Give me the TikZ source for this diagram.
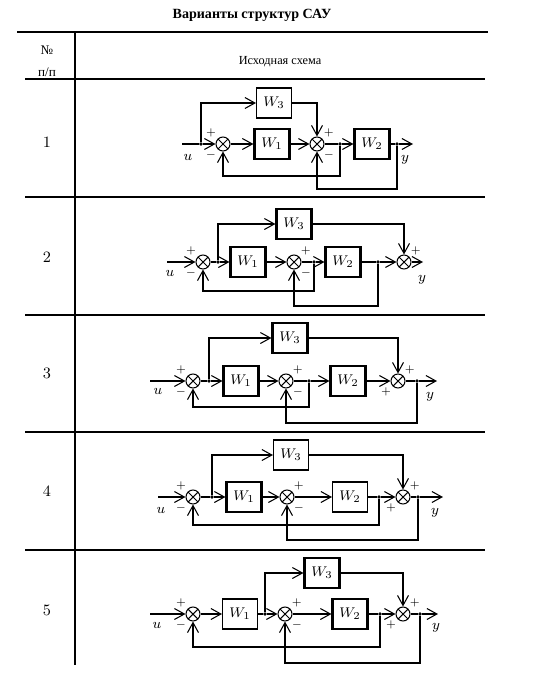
\documentclass[tikz,border=0pt]{standalone}
\usepackage{fontspec}
\usepackage{tikz}
\usetikzlibrary{arrows.meta, positioning}
\newfontfamily\cyrfont{Liberation Serif}

\tikzset{
  blok/.style={draw, line width=0.6pt, minimum width=7mm, minimum height=6mm,
    inner sep=0pt, font=\fontsize{8.5}{10}\selectfont},
  blokb/.style={blok, line width=1.2pt},
  summa/.style={draw, circle, line width=0.6pt, minimum size=2.8mm, inner sep=0pt,
    path picture={\draw[line width=0.6pt]
      (path picture bounding box.north west) -- (path picture bounding box.south east)
      (path picture bounding box.north east) -- (path picture bounding box.south west);}},
  tochka/.style={circle, fill, inner sep=0pt, minimum size=2.2pt},
  znak/.style={inner sep=0.6pt, font=\fontsize{6}{7}\selectfont},
  lbl/.style={font=\fontsize{8.5}{10}\selectfont},
  nomer/.style={font=\fontsize{9}{10}\selectfont},
  tabl/.style={line width=1.3pt},
}

\begin{document}
\begin{tikzpicture}[x=0.02cm, y=-0.02cm, line width=0.6pt,
    >={Straight Barb[length=2mm, width=2.2mm]}]
    \useasboundingbox (0,0) rectangle (553,679);

    % 1. Заголовок и таблица
    \node[font=\cyrfont\bfseries\fontsize{8}{10}\selectfont] (title) at (252,15) {Варианты структур САУ};
    \draw[tabl] (17,32) -- (488,32);
    \draw[tabl] (25,79) -- (485,79);
    \foreach \yy in {197,315,432,550}
        \draw[tabl] (25,\yy) -- (485,\yy);
    \draw[tabl] (75,32) -- (75,665);
    \node[font=\cyrfont\fontsize{7.5}{9}\selectfont] (hnum) at (47,50) {№};
    \node[font=\cyrfont\fontsize{7.5}{9}\selectfont] (hpp) at (47,72) {п/п};
    \node[font=\cyrfont\fontsize{7}{9}\selectfont] (hschema) at (280,62) {Исходная схема};
    \node[nomer] (n1) at (47,142) {1};
    \node[nomer] (n2) at (47,257) {2};
    \node[nomer] (n3) at (47,373) {3};
    \node[nomer] (n4) at (47,491) {4};
    \node[nomer] (n5) at (47,610) {5};

    % 2. Схема 1
    \coordinate (r1in) at (182,144);
    \node[tochka] (r1d0) at (201,144) {};
    \node[summa] (r1s1) at (223,144) {};
    \node[blokb] (r1w1) at (272,144) {$W_1$};
    \node[summa] (r1s2) at (317,144) {};
    \node[tochka] (r1d1) at (340,144) {};
    \node[blokb] (r1w2) at (372,144) {$W_2$};
    \node[tochka] (r1d2) at (397,144) {};
    \coordinate (r1out) at (413,144);
    \node[blok] (r1w3) at (274,103) {$W_3$};
    \coordinate (r1f1) at (340,176);
    \coordinate (r1f2) at (397,189);
    \draw (r1in) -- (r1d0);
    \draw[->] (r1d0) -- (r1s1);
    \draw[->] (r1s1) -- (r1w1);
    \draw[->] (r1w1) -- (r1s2);
    \draw (r1s2) -- (r1d1);
    \draw[->] (r1d1) -- (r1w2);
    \draw (r1w2) -- (r1d2);
    \draw[->] (r1d2) -- (r1out);
    \draw[->] (r1d0) |- (r1w3);
    \draw[->] (r1w3) -| (r1s2);
    \draw[->] (r1d1) -- (r1f1) -| (r1s1);
    \draw[->] (r1d2) -- (r1f2) -| (r1s2);
    \node[znak, above left=0pt of r1s1] (r1p1) {$+$};
    \node[znak, below left=0pt of r1s1] (r1m1) {$-$};
    \node[znak, above right=0pt of r1s2] (r1p2) {$+$};
    \node[znak, below right=0pt of r1s2] (r1m2) {$-$};
    \node[lbl] (r1u) at (188,157) {$u$};
    \node[lbl] (r1y) at (405,160) {$y$};

    % 3. Схема 2
    \coordinate (r2in) at (167,262);
    \node[summa] (r2s1) at (203,262) {};
    \node[tochka] (r2d0) at (218,262) {};
    \node[blokb] (r2w1) at (248,262) {$W_1$};
    \node[summa] (r2s2) at (294,262) {};
    \node[tochka] (r2d1) at (314,262) {};
    \node[blokb] (r2w2) at (343,262) {$W_2$};
    \node[tochka] (r2d2) at (378,262) {};
    \node[summa] (r2s3) at (404,262) {};
    \coordinate (r2out) at (423,262);
    \node[blokb] (r2w3) at (294,224) {$W_3$};
    \coordinate (r2f1) at (314,291);
    \coordinate (r2f2) at (378,306);
    \draw[->] (r2in) -- (r2s1);
    \draw (r2s1) -- (r2d0);
    \draw[->] (r2d0) -- (r2w1);
    \draw[->] (r2w1) -- (r2s2);
    \draw (r2s2) -- (r2d1);
    \draw[->] (r2d1) -- (r2w2);
    \draw (r2w2) -- (r2d2);
    \draw[->] (r2d2) -- (r2s3);
    \draw[->] (r2s3) -- (r2out);
    \draw[->] (r2d0) |- (r2w3);
    \draw[->] (r2w3) -| (r2s3);
    \draw[->] (r2d1) -- (r2f1) -| (r2s1);
    \draw[->] (r2d2) -- (r2f2) -| (r2s2);
    \node[znak, above left=0pt of r2s1] (r2p1) {$+$};
    \node[znak, below left=0pt of r2s1] (r2m1) {$-$};
    \node[znak, above right=0pt of r2s2] (r2p2) {$+$};
    \node[znak, below right=0pt of r2s2] (r2m2) {$-$};
    \node[znak, above right=0pt of r2s3] (r2p3) {$+$};
    \node[lbl] (r2u) at (170,273) {$u$};
    \node[lbl] (r2y) at (422,280) {$y$};

    % 4. Схема 3
    \coordinate (r3in) at (150,381);
    \node[summa] (r3s1) at (193,381) {};
    \node[tochka] (r3d0) at (209,381) {};
    \node[blokb] (r3w1) at (241,381) {$W_1$};
    \node[summa] (r3s2) at (286,381) {};
    \node[tochka] (r3d1) at (309,381) {};
    \node[blokb] (r3w2) at (348,381) {$W_2$};
    \node[summa] (r3s3) at (398,381) {};
    \node[tochka] (r3d2) at (417,381) {};
    \coordinate (r3out) at (437,381);
    \node[blokb] (r3w3) at (290,338) {$W_3$};
    \coordinate (r3f1) at (309,407);
    \coordinate (r3f2) at (417,423);
    \draw[->] (r3in) -- (r3s1);
    \draw (r3s1) -- (r3d0);
    \draw[->] (r3d0) -- (r3w1);
    \draw[->] (r3w1) -- (r3s2);
    \draw (r3s2) -- (r3d1);
    \draw[->] (r3d1) -- (r3w2);
    \draw[->] (r3w2) -- (r3s3);
    \draw (r3s3) -- (r3d2);
    \draw[->] (r3d2) -- (r3out);
    \draw[->] (r3d0) |- (r3w3);
    \draw[->] (r3w3) -| (r3s3);
    \draw[->] (r3d1) -- (r3f1) -| (r3s1);
    \draw[->] (r3d2) -- (r3f2) -| (r3s2);
    \node[znak, above left=0pt of r3s1] (r3p1) {$+$};
    \node[znak, below left=0pt of r3s1] (r3m1) {$-$};
    \node[znak, above right=0pt of r3s2] (r3p2) {$+$};
    \node[znak, below right=0pt of r3s2] (r3m2) {$-$};
    \node[znak, above right=0pt of r3s3] (r3p3) {$+$};
    \node[znak, below left=0pt of r3s3] (r3p4) {$+$};
    \node[lbl] (r3u) at (158,391) {$u$};
    \node[lbl] (r3y) at (430,397) {$y$};

    % 5. Схема 4
    \coordinate (r4in) at (158,497);
    \node[summa] (r4s1) at (193,497) {};
    \node[tochka] (r4d0) at (212,497) {};
    \node[blokb] (r4w1) at (244,497) {$W_1$};
    \node[summa] (r4s2) at (287,497) {};
    \node[blok] (r4w2) at (350,497) {$W_2$};
    \node[tochka] (r4d1) at (379,497) {};
    \node[summa] (r4s3) at (403,497) {};
    \node[tochka] (r4d2) at (418,497) {};
    \coordinate (r4out) at (443,497);
    \node[blok] (r4w3) at (291,455) {$W_3$};
    \coordinate (r4f1) at (379,525);
    \coordinate (r4f2) at (418,540);
    \draw[->] (r4in) -- (r4s1);
    \draw (r4s1) -- (r4d0);
    \draw[->] (r4d0) -- (r4w1);
    \draw[->] (r4w1) -- (r4s2);
    \draw[->] (r4s2) -- (r4w2);
    \draw (r4w2) -- (r4d1);
    \draw[->] (r4d1) -- (r4s3);
    \draw (r4s3) -- (r4d2);
    \draw[->] (r4d2) -- (r4out);
    \draw[->] (r4d0) |- (r4w3);
    \draw[->] (r4w3) -| (r4s3);
    \draw[->] (r4d1) -- (r4f1) -| (r4s1);
    \draw[->] (r4d2) -- (r4f2) -| (r4s2);
    \node[znak, above left=0pt of r4s1] (r4p1) {$+$};
    \node[znak, below left=0pt of r4s1] (r4m1) {$-$};
    \node[znak, above right=0pt of r4s2] (r4p2) {$+$};
    \node[znak, below right=0pt of r4s2] (r4m2) {$-$};
    \node[znak, above right=0pt of r4s3] (r4p3) {$+$};
    \node[znak, below left=0pt of r4s3] (r4p4) {$+$};
    \node[lbl] (r4u) at (161,510) {$u$};
    \node[lbl] (r4y) at (435,513) {$y$};

    % 6. Схема 5
    \coordinate (r5in) at (150,614);
    \node[summa] (r5s1) at (193,614) {};
    \node[blok] (r5w1) at (240,614) {$W_1$};
    \node[tochka] (r5d0) at (265,614) {};
    \node[summa] (r5s2) at (285,614) {};
    \node[blokb] (r5w2) at (350,614) {$W_2$};
    \node[tochka] (r5d1) at (380,614) {};
    \node[summa] (r5s3) at (403,614) {};
    \node[tochka] (r5d2) at (420,614) {};
    \coordinate (r5out) at (438,614);
    \node[blokb] (r5w3) at (322,573) {$W_3$};
    \coordinate (r5f1) at (380,647);
    \coordinate (r5f2) at (420,663);
    \draw[->] (r5in) -- (r5s1);
    \draw[->] (r5s1) -- (r5w1);
    \draw (r5w1) -- (r5d0);
    \draw[->] (r5d0) -- (r5s2);
    \draw[->] (r5s2) -- (r5w2);
    \draw (r5w2) -- (r5d1);
    \draw[->] (r5d1) -- (r5s3);
    \draw (r5s3) -- (r5d2);
    \draw[->] (r5d2) -- (r5out);
    \draw[->] (r5d0) |- (r5w3);
    \draw[->] (r5w3) -| (r5s3);
    \draw[->] (r5d1) -- (r5f1) -| (r5s1);
    \draw[->] (r5d2) -- (r5f2) -| (r5s2);
    \node[znak, above left=0pt of r5s1] (r5p1) {$+$};
    \node[znak, below left=0pt of r5s1] (r5m1) {$-$};
    \node[znak, above right=0pt of r5s2] (r5p2) {$+$};
    \node[znak, below right=0pt of r5s2] (r5m2) {$-$};
    \node[znak, above right=0pt of r5s3] (r5p3) {$+$};
    \node[znak, below left=0pt of r5s3] (r5p4) {$+$};
    \node[lbl] (r5u) at (157,625) {$u$};
    \node[lbl] (r5y) at (436,628) {$y$};
\end{tikzpicture}
\end{document}
